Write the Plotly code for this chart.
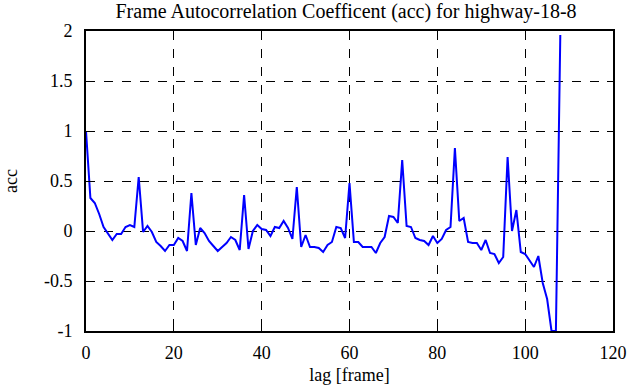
import plotly.graph_objects as go

lags = list(range(0, 109))
acc = [
    1.00, 0.33, 0.28, 0.17, 0.04, -0.02, -0.09, -0.03, -0.03, 0.04,
    0.06, 0.04, 0.54, -0.01, 0.05, -0.01, -0.11, -0.15, -0.20, -0.14,
    -0.14, -0.07, -0.10, -0.20, 0.38, -0.14, 0.03, -0.02, -0.10, -0.15,
    -0.20, -0.16, -0.12, -0.06, -0.09, -0.19, 0.36, -0.18, 0.00, 0.06,
    0.02, 0.01, -0.05, 0.04, 0.03, 0.10, 0.03, -0.08, 0.44, -0.16,
    -0.04, -0.16, -0.16, -0.17, -0.21, -0.14, -0.11, 0.04, 0.03, -0.07,
    0.48, -0.11, -0.11, -0.16, -0.16, -0.16, -0.22, -0.12, -0.06, 0.15,
    0.14, 0.08, 0.71, 0.05, 0.04, -0.07, -0.09, -0.10, -0.14, -0.05,
    -0.12, -0.08, 0.01, 0.04, 0.83, 0.10, 0.13, -0.11, -0.12, -0.12,
    -0.19, -0.09, -0.22, -0.23, -0.32, -0.26, 0.74, 0.00, 0.21, -0.21,
    -0.23, -0.30, -0.36, -0.25, -0.52, -0.68, -1.00, -1.00, 1.96,
]

title_text = "Frame Autocorrelation Coefficent (acc) for highway-18-8"
x_label = "lag [frame]"
y_label = "acc"
x_ticks = [0, 20, 40, 60, 80, 100, 120]
y_ticks = [-1, -0.5, 0, 0.5, 1, 1.5, 2]
y_ticktext = ["-1", "-0.5", "0", "0.5", "1", "1.5", "2"]

FONT = "Liberation Serif, Times New Roman, Times, serif"
tick_font = dict(family=FONT, size=18, color="black")

fig = go.Figure()
fig.add_trace(go.Scatter(
    x=lags, y=acc, mode="lines",
    line=dict(color="#0000ff", width=2),
    showlegend=False, hoverinfo="skip",
))

axis_common = dict(
    showline=True, linecolor="black", linewidth=2, mirror="allticks",
    ticks="inside", ticklen=6, tickwidth=1, tickcolor="black",
    showgrid=True, gridcolor="black", gridwidth=1, griddash="dash",
    zeroline=False, automargin=False,
)

fig.update_xaxes(
    range=[0, 120], tickvals=x_ticks, tickfont=tick_font, ticklabelstandoff=4,
    title=dict(text=x_label, font=dict(family=FONT, size=18, color="black"), standoff=7),
    **axis_common,
)
fig.update_yaxes(
    range=[-1, 2], tickvals=y_ticks, ticktext=y_ticktext, tickfont=tick_font,
    ticklabelstandoff=8,
    title=dict(text=y_label, font=dict(family=FONT, size=18, color="black"), standoff=22),
    **axis_common,
)

fig.update_layout(
    width=635, height=387,
    margin=dict(l=86, r=22, t=31, b=56, autoexpand=False),
    paper_bgcolor="white", plot_bgcolor="white",
    title=dict(text=title_text, x=0.545, xanchor="center", y=0.99, yanchor="top",
               font=dict(family=FONT, size=20, color="black")),
    font=dict(family=FONT, color="black"),
)

fig.write_html("out.html", config={"displayModeBar": False, "staticPlot": True},
               post_script="document.body.style.margin='0';")
